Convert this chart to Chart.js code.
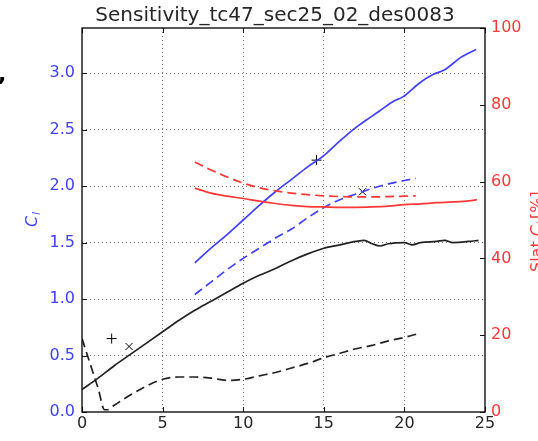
<!DOCTYPE html>
<html><head><meta charset="utf-8">
<script src="https://cdn.jsdelivr.net/npm/chart.js@4/dist/chart.umd.min.js"></script>
<style>html,body{margin:0;padding:0;background:#fff;overflow:hidden}#wrap{width:538px;height:441px;position:relative}</style>
</head><body><div id="wrap"><canvas id="c" width="538" height="441"></canvas></div>
<script>
const TITLE = 'Sensitivity_tc47_sec25_02_des0083';
const xTicks = [0, 5, 10, 15, 20, 25];
const clTicks = [0, 0.5, 1, 1.5, 2, 2.5, 3];
const slatTicks = [0, 20, 40, 60, 80, 100];

// Blue solid: total Cl (left axis)
const clSolidX = [7, 8, 9, 10, 11, 12, 13, 14, 15, 16, 17, 18, 18.5, 19.3, 19.9, 21, 21.8, 22.5, 23.5, 24.45];
const clSolidY = [1.32, 1.45, 1.57, 1.70, 1.83, 1.95, 2.06, 2.17, 2.27, 2.40, 2.52, 2.62, 2.67, 2.75, 2.79, 2.92, 2.99, 3.03, 3.14, 3.21];
// Blue dashed (left axis)
const clDashX = [7, 8, 9, 10, 11, 12, 13, 14, 15, 16, 17, 18, 19, 20, 20.7];
const clDashY = [1.04, 1.15, 1.26, 1.36, 1.45, 1.54, 1.62, 1.72, 1.81, 1.88, 1.93, 1.98, 2.02, 2.05, 2.07];
// Red solid: slat Cl share [%] (right axis)
const slatSolidX = [7, 8, 9, 10, 11, 12, 13, 14, 15, 16, 17, 18, 19, 20, 21, 22, 23, 24, 24.5];
const slatSolidY = [58.3, 57.0, 56.2, 55.6, 54.9, 54.3, 53.8, 53.5, 53.4, 53.3, 53.3, 53.4, 53.6, 54.0, 54.2, 54.5, 54.7, 55.0, 55.3];
// Red dashed (right axis)
const slatDashX = [7, 8, 9, 10, 11, 12, 13, 14, 15, 16, 17, 18, 19, 20, 20.7];
const slatDashY = [65.1, 63.0, 61.2, 59.6, 58.4, 57.6, 57.0, 56.6, 56.3, 56.1, 56.0, 56.0, 56.1, 56.2, 56.3];
// Black solid (left axis)
const blkSolidX = [0, 1, 2, 3, 4, 5, 6, 7, 8, 9, 10, 11, 12, 13, 14, 15, 16, 17, 17.5, 18, 18.5, 19, 20, 20.5, 21, 22, 22.5, 23, 24, 24.6];
const blkSolidY = [0.20, 0.30, 0.41, 0.51, 0.61, 0.71, 0.81, 0.90, 0.98, 1.06, 1.14, 1.21, 1.27, 1.34, 1.40, 1.45, 1.48, 1.51, 1.52, 1.49, 1.47, 1.49, 1.50, 1.48, 1.50, 1.51, 1.52, 1.50, 1.51, 1.52];
// Black dashed (left axis)
const blkDashX = [0, 0.5, 1, 1.4, 1.6, 2, 3, 4, 5, 6, 7, 8, 9, 10, 11, 12, 13, 14, 15, 16, 17, 18, 19, 20, 21];
const blkDashY = [0.65, 0.43, 0.21, 0.02, 0.02, 0.06, 0.15, 0.23, 0.29, 0.31, 0.31, 0.30, 0.28, 0.29, 0.32, 0.35, 0.39, 0.43, 0.48, 0.52, 0.56, 0.59, 0.63, 0.66, 0.70];
// Markers
const plusX = [1.84, 14.55];
const plusY = [0.65, 2.23];
const crossX = [2.92, 17.4];
const crossY = [0.58, 1.95];

const pts = (xs, ys) => xs.map((x, i) => ({x: x, y: ys[i]}));
const BLUE = '#4040ff', RED = '#ff3838', BLK = '#222222';
const FONT = 'DejaVu Sans';

function lineDs(data, color, dashed, axis) {
  return {data: data, borderColor: color, borderWidth: 1.7, borderDash: dashed ? [9, 5] : [],
    pointRadius: 0, fill: false, tension: 0.3, cubicInterpolationMode: 'monotone', yAxisID: axis, showLine: true};
}

const frame = {
  id: 'frame',
  afterDraw(chart) {
    const ctx = chart.ctx, a = chart.chartArea;
    const sx = chart.scales.x, sy = chart.scales.y, sy2 = chart.scales.y2;
    ctx.save();
    ctx.strokeStyle = '#111';
    ctx.lineWidth = 1.4;
    ctx.strokeRect(a.left, a.top, a.right - a.left, a.bottom - a.top);
    ctx.lineWidth = 1;
    ctx.beginPath();
    xTicks.forEach(v => { const p = Math.round(sx.getPixelForValue(v)) + 0.5;
      ctx.moveTo(p, a.bottom); ctx.lineTo(p, a.bottom - 5);
      ctx.moveTo(p, a.top); ctx.lineTo(p, a.top + 5); });
    clTicks.forEach(v => { const p = Math.round(sy.getPixelForValue(v)) + 0.5;
      ctx.moveTo(a.left, p); ctx.lineTo(a.left + 5, p); });
    slatTicks.forEach(v => { const p = Math.round(sy2.getPixelForValue(v)) + 0.5;
      ctx.moveTo(a.right, p); ctx.lineTo(a.right - 5, p); });
    ctx.stroke();
    // title
    ctx.fillStyle = '#262626';
    ctx.font = '20px "' + FONT + '"';
    ctx.textAlign = 'center';
    ctx.textBaseline = 'alphabetic';
    ctx.fillText(TITLE, 275, 21);
    // left label C_l
    ctx.save();
    ctx.translate(37, 220);
    ctx.rotate(-Math.PI / 2);
    ctx.fillStyle = BLUE;
    ctx.textAlign = 'left';
    ctx.font = 'italic 16px "' + FONT + '"';
    ctx.fillText('C', -7, 0);
    ctx.font = 'italic 11px "' + FONT + '"';
    ctx.fillText('l', 5, 3);
    ctx.restore();
    // right label Slat C_l [%]
    ctx.save();
    ctx.translate(542, 222);
    ctx.rotate(-Math.PI / 2);
    ctx.fillStyle = RED;
    ctx.textAlign = 'left';
    let x0 = -50;
    ctx.font = '16px "' + FONT + '"';
    ctx.fillText('Slat ', x0, 0); x0 += ctx.measureText('Slat ').width;
    ctx.font = 'italic 16px "' + FONT + '"';
    ctx.fillText('C', x0, 0); x0 += ctx.measureText('C').width;
    ctx.font = 'italic 11px "' + FONT + '"';
    ctx.fillText('l', x0, 3); x0 += ctx.measureText('l').width + 3;
    ctx.font = '16px "' + FONT + '"';
    ctx.fillText('[%]', x0, 0);
    ctx.restore();
    // stray comma in top-left corner
    ctx.fillStyle = '#000';
    ctx.font = 'bold 22px "' + FONT + '"';
    ctx.textAlign = 'left';
    ctx.fillText(',', -2, 81);
    ctx.restore();
  }
};

const keepTicks = list => scale => { scale.ticks = list.map(v => ({value: v})); };

new Chart(document.getElementById('c'), {
  type: 'scatter',
  data: {
    datasets: [
      lineDs(pts(blkDashX, blkDashY), BLK, true, 'y'),
      lineDs(pts(blkSolidX, blkSolidY), BLK, false, 'y'),
      lineDs(pts(slatDashX, slatDashY), RED, true, 'y2'),
      lineDs(pts(slatSolidX, slatSolidY), RED, false, 'y2'),
      lineDs(pts(clDashX, clDashY), BLUE, true, 'y'),
      lineDs(pts(clSolidX, clSolidY), BLUE, false, 'y'),
      {data: pts(plusX, plusY), showLine: false, pointStyle: 'cross', pointRadius: 5, borderColor: '#000', borderWidth: 1, backgroundColor: '#000', yAxisID: 'y'},
      {data: pts(crossX, crossY), showLine: false, pointStyle: 'crossRot', pointRadius: 5, borderColor: '#000', borderWidth: 1, backgroundColor: '#000', yAxisID: 'y'}
    ]
  },
  options: {
    responsive: false, animation: false, devicePixelRatio: 1,
    layout: {padding: {top: 28, left: 0, right: 0, bottom: 0}},
    plugins: {legend: {display: false}, tooltip: {enabled: false}, title: {display: false}},
    scales: {
      x: {type: 'linear', position: 'bottom', min: 0, max: 25,
        afterBuildTicks: keepTicks(xTicks),
        afterFit: s => { s.height = 29; },
        grid: {drawTicks: false, color: c => (c.tick && (c.tick.value === 0 || c.tick.value === 25)) ? 'rgba(0,0,0,0)' : 'rgba(0,0,0,0.55)', lineWidth: 1},
        border: {display: false, dash: [1, 3]},
        ticks: {color: '#262626', font: {family: FONT, size: 16}, padding: 2, maxRotation: 0}
      },
      y: {type: 'linear', position: 'left', min: 0, max: 3.4,
        afterBuildTicks: keepTicks(clTicks),
        afterFit: s => { s.width = 82; },
        grid: {drawTicks: false, color: c => (c.tick && c.tick.value === 0) ? 'rgba(0,0,0,0)' : 'rgba(0,0,0,0.55)', lineWidth: 1},
        border: {display: false, dash: [1, 3]},
        ticks: {color: BLUE, font: {family: FONT, size: 16}, padding: 7, callback: v => v.toFixed(1)}
      },
      y2: {type: 'linear', position: 'right', min: 0, max: 100,
        afterBuildTicks: keepTicks(slatTicks),
        afterFit: s => { s.width = 53; },
        grid: {drawOnChartArea: false, drawTicks: false},
        border: {display: false},
        ticks: {color: RED, font: {family: FONT, size: 16}, padding: 6}
      }
    }
  },
  plugins: [frame]
});
</script>
</body></html>
